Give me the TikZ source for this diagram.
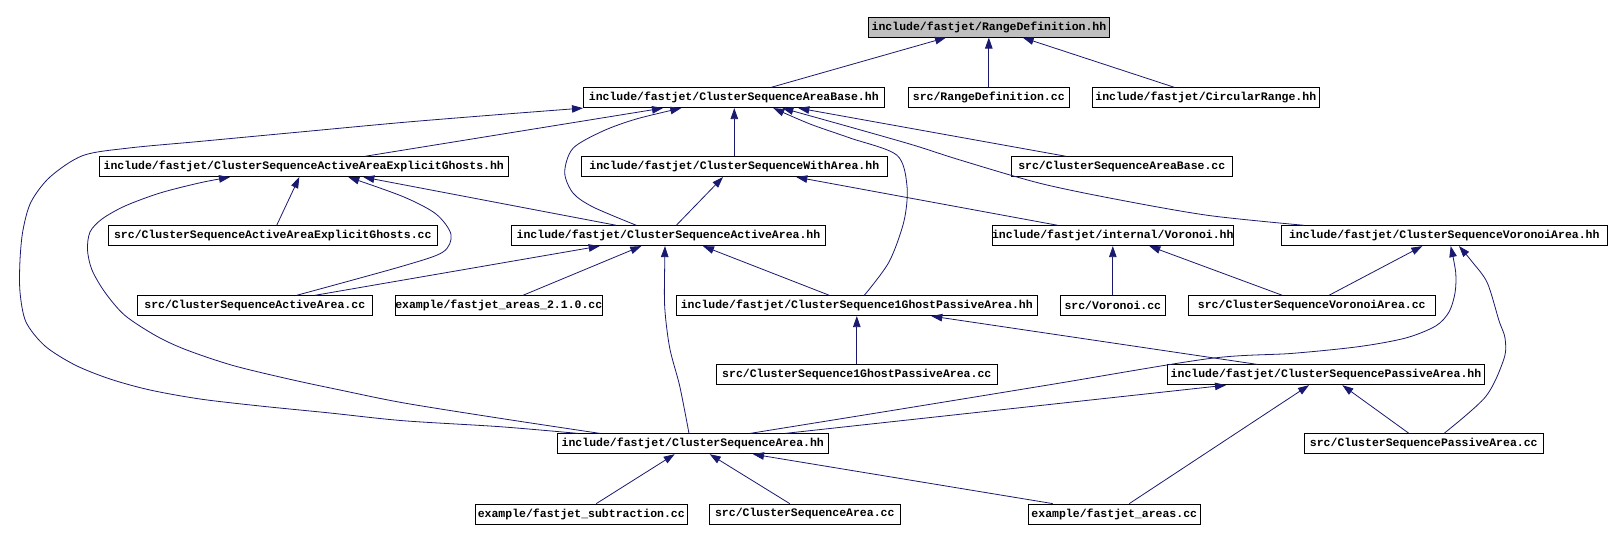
\documentclass[tikz,border=0pt]{standalone}
\usepackage{fontspec}
\newfontfamily\dxfont{Liberation Mono}
\usetikzlibrary{arrows.meta}
\definecolor{edgeblue}{HTML}{191970}
\definecolor{rootgray}{HTML}{BFBFBF}
\begin{document}
\begin{tikzpicture}[x=1pt,y=-1pt,
  file/.style={draw=black, line width=0.8pt, fill=white, inner sep=0pt, minimum height=20pt,
    font=\dxfont\bfseries\fontsize{11.5}{12}\selectfont},
  edge/.style={draw=edgeblue, line width=0.8pt, -{Triangle[length=11pt,width=7.5pt]}},
  cv/.style={smooth, tension=0.5}]
\fill[white] (0,0) rectangle (1612,540);
\useasboundingbox (0,0) rectangle (1612,540);
% row 0
\node[file, fill=rootgray, minimum width=241.4pt] (RD) at (989,27.2) {include/fastjet/RangeDefinition.hh};
% row 1
\node[file, minimum width=301pt] (CSAB) at (733.8,97.7) {include/fastjet/ClusterSequenceAreaBase.hh};
\node[file, minimum width=161pt] (RDcc) at (988.8,97.7) {src/RangeDefinition.cc};
\node[file, minimum width=227pt] (CR) at (1205.8,97.7) {include/fastjet/CircularRange.hh};
% row 2
\node[file, minimum width=409pt] (CSAEG) at (303.8,166.7) {include/fastjet/ClusterSequenceActiveAreaExplicitGhosts.hh};
\node[file, minimum width=306pt] (CSWA) at (734.3,166.7) {include/fastjet/ClusterSequenceWithArea.hh};
\node[file, minimum width=221pt] (CSABcc) at (1121.8,166.7) {src/ClusterSequenceAreaBase.cc};
% row 3
\node[file, minimum width=329pt] (CSEGcc) at (272.8,235.7) {src/ClusterSequenceActiveAreaExplicitGhosts.cc};
\node[file, minimum width=314.4pt] (CSAA) at (668.5,235.7) {include/fastjet/ClusterSequenceActiveArea.hh};
\node[file, minimum width=241pt] (Vor) at (1112.8,235.7) {include/fastjet/internal/Voronoi.hh};
\node[file, minimum width=326pt] (CSVA) at (1444.3,235.7) {include/fastjet/ClusterSequenceVoronoiArea.hh};
% row 4
\node[file, minimum width=235pt] (CSAAcc) at (254.8,305.7) {src/ClusterSequenceActiveArea.cc};
\node[file, minimum width=205.7pt] (ex210) at (498.8,305.7) {example/fastjet\_areas\_2.1.0.cc};
\node[file, minimum width=361pt] (CS1G) at (856.8,305.7) {include/fastjet/ClusterSequence1GhostPassiveArea.hh};
\node[file, minimum width=105pt] (Vorcc) at (1112.8,305.7) {src/Voronoi.cc};
\node[file, minimum width=247pt] (CSVAcc) at (1311.8,305.7) {src/ClusterSequenceVoronoiArea.cc};
% row 5
\node[file, minimum width=281pt] (CS1Gcc) at (856.8,374.8) {src/ClusterSequence1GhostPassiveArea.cc};
\node[file, minimum width=317.4pt] (CSPA) at (1326,374.8) {include/fastjet/ClusterSequencePassiveArea.hh};
% row 6
\node[file, minimum width=271pt] (CSA) at (692.8,443.8) {include/fastjet/ClusterSequenceArea.hh};
\node[file, minimum width=239pt] (CSPAcc) at (1423.8,443.8) {src/ClusterSequencePassiveArea.cc};
% row 7
\node[file, minimum width=212pt] (exsub) at (581.3,514) {example/fastjet\_subtraction.cc};
\node[file, minimum width=191pt] (CSAcc) at (804.8,514) {src/ClusterSequenceArea.cc};
\node[file, minimum width=172pt] (exareas) at (1114.3,514) {example/fastjet\_areas.cc};

% edges
\draw[edge] ([xshift=37.5]CSAB.north) -- ([xshift=-43]RD.south);
\draw[edge] (RDcc.north) -- (RDcc.north |- RD.south);
\draw[edge] ([xshift=-31.5]CR.north) -- ([xshift=33.7]RD.south);
\draw[edge] ([xshift=61.2]CSAEG.north) -- ([xshift=-70.8]CSAB.south);
\draw[edge] plot[cv] coordinates {([xshift=-114.8]CSA.north) (500,426.7) (403,420.7) (330,413) (260,406) (200,399) (150,390) (110,379) (75,365) (45,346) (26,322) (20,292) (20,260) (23,230) (31,202) (50,177) (83,155.5) (130,147.9) (200,141.4) (300,132) (403,122.4) (500,114.5) ([xshift=-150.8]CSAB.south)};
\draw[edge] (CSWA.north) -- (CSWA.north |- CSAB.south);
\draw[edge] plot[cv] coordinates {([xshift=-32.2]CSAA.north) (593,207) (573,193) (564.7,172.4) (573,148.3) (603,131) (636.3,119) ([xshift=-52.5]CSAB.south)};
\draw[edge] plot[cv] coordinates {([xshift=7.5]CS1G.north) (889,262) (904,221) (907,186) (896.7,155) (850,138) (810,124) ([xshift=39.5]CSAB.south)};
\draw[edge] ([xshift=-55.8]CSABcc.north) -- ([xshift=64.5]CSAB.south);
\draw[edge] plot[cv] coordinates {([xshift=-140.3]CSVA.north) (1209,215.5) (1120,200) (1040,183.3) (960,160) (913,145) (850,127) ([xshift=48.5]CSAB.south)};
\draw[edge] ([xshift=3.9]CSEGcc.north) -- ([xshift=-4.5]CSAEG.south);
\draw[edge] plot[cv] coordinates {([xshift=41.9]CSAAcc.north) (403,266) (443,252) (451,234.5) (436,214) (403,196.6) ([xshift=44.5]CSAEG.south)};
\draw[edge] plot[cv] coordinates {([xshift=-92.8]CSA.north) (500,418.3) (403,402.8) (340,390) (290,379.3) (233,365.5) (186.7,350) (156.7,336.2) (125,315.5) (105,292.4) (92,270) (87.5,250) (90,232) (102,219) (125,206) (160,193) (200,182.8) ([xshift=-73.8]CSAEG.south)};
\draw[edge] ([xshift=-52.2]CSAA.north) -- ([xshift=59.5]CSAEG.south);
\draw[edge] ([xshift=7.8]CSAA.north) -- ([xshift=-11.3]CSWA.south);
\draw[edge] ([xshift=-55.1]Vor.north) -- ([xshift=62]CSWA.south);
\draw[edge] ([xshift=60.2]CSAAcc.north) -- ([xshift=-68.8]CSAA.south);
\draw[edge] ([xshift=24.2]ex210.north) -- ([xshift=-27.2]CSAA.south);
\draw[edge] plot[cv] coordinates {([xshift=-3.8]CSA.north) (679.7,386) (669.7,348) (664.7,307) (664.7,264) ([xshift=-3.5]CSAA.south)};
\draw[edge] ([xshift=-27.5]CS1G.north) -- ([xshift=34.5]CSAA.south);
\draw[edge] (Vorcc.north) -- (Vorcc.north |- Vor.south);
\draw[edge] ([xshift=-29.5]CSVAcc.north) -- ([xshift=36.5]Vor.south);
\draw[edge] ([xshift=17.2]CSVAcc.north) -- ([xshift=-22]CSVA.south);
\draw[edge] plot[cv] coordinates {([xshift=57.2]CSA.north) (900,409.2) (1050,384.7) (1209,358.6) (1292,353.4) (1359,346.6) (1405.7,338) (1435.7,326) (1449,312) (1455,293) (1455.7,272.4) ([xshift=6.4]CSVA.south)};
\draw[edge] plot[cv] coordinates {([xshift=20.2]CSPAcc.north) (1485.7,396.6) (1504,358.6) (1505,338) (1499,320.7) (1487.3,282.8) (1472.3,262) ([xshift=14.7]CSVA.south)};
\draw[edge] (CS1Gcc.north) -- (CS1Gcc.north |- CS1G.south);
\draw[edge] ([xshift=-68.7]CSPA.north) -- ([xshift=74.5]CS1G.south);
\draw[edge] ([xshift=92.2]CSA.north) -- ([xshift=-100]CSPA.south);
\draw[edge] ([xshift=-14.8]CSPAcc.north) -- ([xshift=16.3]CSPA.south);
\draw[edge] ([xshift=15]exareas.north) -- ([xshift=-17]CSPA.south);
\draw[edge] ([xshift=15]exsub.north) -- ([xshift=-18.1]CSA.south);
\draw[edge] ([xshift=-15.1]CSAcc.north) -- ([xshift=16.9]CSA.south);
\draw[edge] ([xshift=-61.6]exareas.north) -- ([xshift=60.2]CSA.south);
\end{tikzpicture}
\end{document}
